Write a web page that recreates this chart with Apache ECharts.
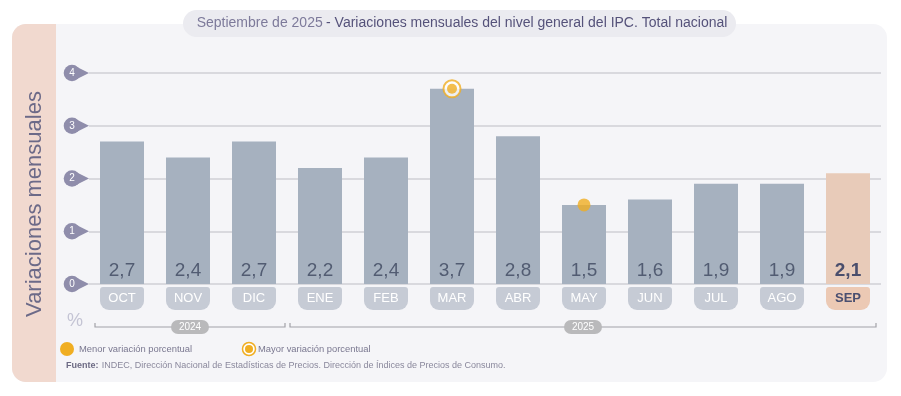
<!DOCTYPE html>
<html><head><meta charset="utf-8">
<script src="https://cdn.jsdelivr.net/npm/echarts@6/dist/echarts.min.js"></script>
<style>html,body{margin:0;padding:0;background:#fff}#c{width:901px;height:396px}</style>
</head><body><div id="c"></div>
<script>
const categories = ['OCT','NOV','DIC','ENE','FEB','MAR','ABR','MAY','JUN','JUL','AGO','SEP'];
const values = [2.7, 2.4, 2.7, 2.2, 2.4, 3.7, 2.8, 1.5, 1.6, 1.9, 1.9, 2.1];
const yTicks = [0, 1, 2, 3, 4];
const years = [{label:'2024', from:0, to:2}, {label:'2025', from:3, to:11}];
const minIdx = 7, maxIdx = 5;
const highlightIdx = 11;

const FONT = '"Liberation Sans", Arial, sans-serif';
const ORANGE = '#f0ae22';
const chart = echarts.init(document.getElementById('c'), null, {renderer:'canvas'});

const barData = values.map((v,i)=> i===highlightIdx ? {value:v, itemStyle:{color:'#e8cbb9'}, label:{fontWeight:'bold', color:'#4a4e6c'}} : v);
const minData = categories.map((c,i)=> i===minIdx ? values[i] : '-');
const maxData = categories.map((c,i)=> i===maxIdx ? values[i] : '-');

chart.setOption({
  animation:false,
  textStyle:{fontFamily:FONT},
  grid:{left:89, right:20, top:73, bottom:112},
  xAxis:{type:'category', data:categories,
    axisLine:{show:false}, axisTick:{show:false},
    axisLabel:{margin:3, fontFamily:FONT,
      formatter:(v,i)=> i===highlightIdx ? '{h|'+v+'}' : '{n|'+v+'}',
      rich:{
        n:{backgroundColor:'#c6cbd5', color:'#fff', fontSize:13, width:44, height:23, lineHeight:23, align:'center', borderRadius:[3,3,9,9]},
        h:{backgroundColor:'#ecc9b4', color:'#4a4f70', fontWeight:'bold', fontSize:13, width:44, height:23, lineHeight:23, align:'center', borderRadius:[3,3,9,9]}
      }}
  },
  yAxis:{type:'value', min:0, max:4, interval:1,
    axisLabel:{show:false}, axisLine:{show:false}, axisTick:{show:false},
    splitLine:{lineStyle:{color:'#cfcfd6', width:1.5}}
  },
  series:[
    {type:'bar', data:barData, barWidth:44, itemStyle:{color:'#a6b1bf'},
      label:{show:true, position:'insideBottom', distance:4, fontSize:19, color:'#525c72', fontFamily:FONT,
        formatter:p=> String(p.value).replace('.', ',')}},
    {type:'scatter', data:minData, symbol:'circle', symbolSize:13, itemStyle:{color:ORANGE}, z:5},
    {type:'scatter', data:maxData, symbol:'circle', symbolSize:17, itemStyle:{color:'#fff', borderColor:ORANGE, borderWidth:2}, z:5},
    {type:'scatter', data:maxData, symbol:'circle', symbolSize:10, itemStyle:{color:ORANGE}, z:6}
  ]
});

function buildGraphics(){
  const g = [];
  g.push({type:'rect', z:-10, silent:true, shape:{x:12, y:24, width:875, height:358, r:14}, style:{fill:'#f5f5f8'}});
  g.push({type:'rect', z:-9, silent:true, shape:{x:12, y:24, width:44, height:358, r:[14,0,0,14]}, style:{fill:'#f1d9cf'}});
  g.push({type:'text', z:5, silent:true, x:35, y:204, rotation:Math.PI/2,
    style:{text:'Variaciones mensuales', fontSize:22, fill:'#6c6a88', fontFamily:FONT, align:'center', verticalAlign:'middle'}});
  g.push({type:'rect', z:5, silent:true, shape:{x:183, y:10, width:553, height:27, r:13.5}, style:{fill:'#ebebf0'}});
  g.push({type:'text', z:6, silent:true, x:462, y:23.5,
    style:{text:'{a|Septiembre de 2025} {b|- Variaciones mensuales del nivel general del IPC. Total nacional}',
      align:'center', verticalAlign:'middle', fontFamily:FONT,
      rich:{a:{fontSize:14, fill:'#7d7a9a', fontFamily:FONT}, b:{fontSize:14, fill:'#55527a', fontFamily:FONT}}}});
  yTicks.forEach(t=>{
    const y = chart.convertToPixel({yAxisIndex:0}, t);
    g.push({type:'polygon', z:3, silent:true, shape:{points:[[74.5,y-7.3],[89,y],[74.5,y+7.3]]}, style:{fill:'#8f8dab'}});
    g.push({type:'circle', z:3, silent:true, shape:{cx:72, cy:y, r:8.3}, style:{fill:'#8f8dab'}});
    g.push({type:'text', z:4, silent:true, x:72, y:y, style:{text:String(t), fontSize:10, fill:'#fff', align:'center', verticalAlign:'middle', fontFamily:FONT}});
  });
  g.push({type:'text', z:4, silent:true, x:75, y:321, style:{text:'%', fontSize:18, fill:'#c4c4d4', align:'center', verticalAlign:'middle', fontFamily:FONT}});
  const by = 327;
  years.forEach((yr, k)=>{
    const x0 = chart.convertToPixel({xAxisIndex:0}, yr.from) - (k===0?27:30);
    const x1 = chart.convertToPixel({xAxisIndex:0}, yr.to) + (k===0?31:28);
    g.push({type:'polyline', z:3, silent:true, shape:{points:[[x0,by-4],[x0,by],[x1,by],[x1,by-4]]}, style:{stroke:'#a2a2a8', lineWidth:1.2, fill:null}});
    const cx = (x0+x1)/2;
    g.push({type:'rect', z:4, silent:true, shape:{x:cx-19, y:by-7, width:38, height:14, r:7}, style:{fill:'#b9b9bb'}});
    g.push({type:'text', z:5, silent:true, x:cx, y:by, style:{text:yr.label, fontSize:10, fill:'#fff', align:'center', verticalAlign:'middle', fontFamily:FONT}});
  });
  g.push({type:'circle', z:4, silent:true, shape:{cx:67, cy:349, r:7}, style:{fill:ORANGE}});
  g.push({type:'text', z:4, silent:true, x:79, y:349, style:{text:'Menor variación porcentual', fontSize:9.4, fill:'#7a7890', verticalAlign:'middle', fontFamily:FONT}});
  g.push({type:'circle', z:4, silent:true, shape:{cx:249, cy:349, r:6.5}, style:{fill:'#fff', stroke:ORANGE, lineWidth:1.5}});
  g.push({type:'circle', z:5, silent:true, shape:{cx:249, cy:349, r:4}, style:{fill:ORANGE}});
  g.push({type:'text', z:4, silent:true, x:258, y:349, style:{text:'Mayor variación porcentual', fontSize:9.4, fill:'#7a7890', verticalAlign:'middle', fontFamily:FONT}});
  g.push({type:'text', z:4, silent:true, x:66, y:366,
    style:{text:'{b|Fuente:} {n|INDEC, Dirección Nacional de Estadísticas de Precios. Dirección de Índices de Precios de Consumo.}', verticalAlign:'middle', fontFamily:FONT,
      rich:{b:{fontSize:9, fontWeight:'bold', fill:'#6c6a84', fontFamily:FONT}, n:{fontSize:9, fill:'#8a889c', fontFamily:FONT}}}});
  return g;
}
chart.setOption({graphic:buildGraphics()});
</script>
</body></html>
